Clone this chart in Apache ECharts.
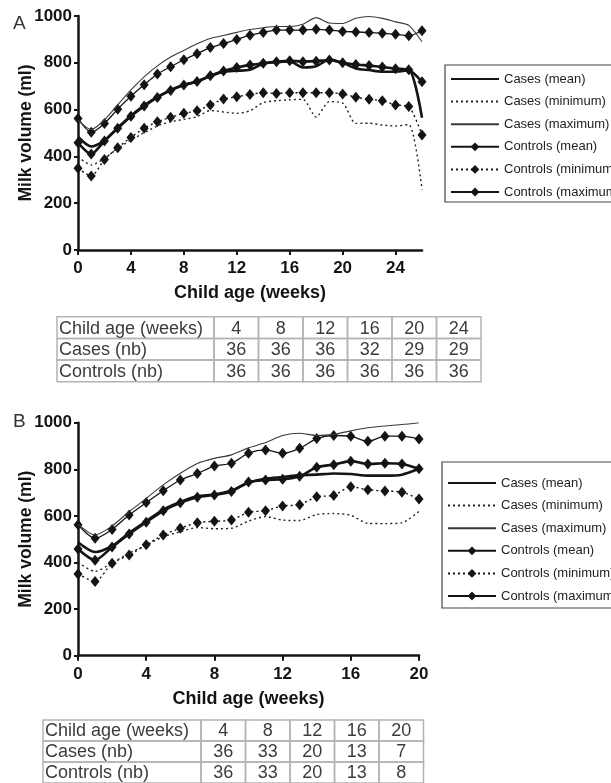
<!DOCTYPE html>
<html><head><meta charset="utf-8">
<script src="https://cdn.jsdelivr.net/npm/echarts@6/dist/echarts.min.js"></script>
<style>html,body{margin:0;padding:0;background:#fff}#c{width:611px;height:783px}</style>
</head><body><div id="c"></div>
<script>
// ---------- data ----------
const seriesNames = ['Cases (mean)','Cases (minimum)','Cases (maximum)','Controls (mean)','Controls (minimum)','Controls (maximum)'];
const yTicks = [0, 200, 400, 600, 800, 1000];

// Panel A (weeks 0-26)
const weeksA = [0,1,2,3,4,5,6,7,8,9,10,11,12,13,14,15,16,17,18,19,20,21,22,23,24,25,26];
const casesMeanA   = [484,442,468,522,574,617,654,683,706,720,743,762,766,770,796,803,806,780,785,814,800,776,769,762,762,768,565];
const casesMinA    = [399,363,392,434,470,501,530,548,558,570,596,590,584,595,630,638,642,644,568,634,628,541,542,534,530,536,258];
const casesMaxA    = [555,515,556,620,684,740,787,825,853,881,904,917,930,942,950,955,955,965,993,970,968,990,998,990,975,960,890];
const controlsMeanA= [458,410,466,520,572,615,652,682,705,720,745,765,780,791,798,805,809,805,807,812,800,793,788,782,775,770,719];
const controlsMinA = [349,316,387,437,481,520,548,567,584,595,620,645,655,665,672,669,672,672,672,672,667,653,644,638,620,613,491];
const controlsMaxA = [562,503,541,602,657,706,752,783,813,839,865,882,900,918,930,940,940,940,943,940,934,932,929,926,922,916,937];

// Panel B (weeks 0-20)
const weeksB = [0,1,2,3,4,5,6,7,8,9,10,11,12,13,14,15,16,17,18,19,20];
const casesMeanB   = [487,445,470,527,577,627,660,684,692,709,742,760,767,775,777,782,780,773,773,777,802];
const casesMinB    = [400,362,398,440,474,510,532,550,545,547,578,597,582,580,606,610,603,568,567,570,620];
const casesMaxB    = [565,518,557,618,675,733,783,825,847,862,892,915,945,955,945,950,965,978,986,992,1000];
const controlsMeanB= [458,410,466,522,573,622,656,680,690,705,745,754,757,770,809,820,835,823,826,823,802];
const controlsMinB = [351,318,397,432,476,518,547,571,577,582,616,622,643,648,682,688,725,712,707,702,672];
const controlsMaxB = [562,504,542,604,657,708,754,782,814,826,869,883,869,890,932,945,942,920,942,942,930];

// Tables
const tableHeaderLabels = ['Child age (weeks)', 'Cases (nb)', 'Controls (nb)'];
const tableWeeksA    = [4, 8, 12, 16, 20, 24];
const tableCasesA    = [36, 36, 36, 32, 29, 29];
const tableControlsA = [36, 36, 36, 36, 36, 36];
const tableWeeksB    = [4, 8, 12, 16, 20];
const tableCasesB    = [36, 33, 20, 13, 7];
const tableControlsB = [36, 33, 20, 13, 8];

// ---------- styles ----------
const FONT = "'Liberation Sans', Arial, sans-serif";
const INK = '#141414';
const styleOf = {
  'Cases (mean)':       {symbol:'none',    lineStyle:{width:2.6, color:INK}},
  'Cases (minimum)':    {symbol:'none',    lineStyle:{width:1.4, color:'#222', type:[2,3]}},
  'Cases (maximum)':    {symbol:'none',    lineStyle:{width:1.1, color:'#3a3a3a'}},
  'Controls (mean)':    {symbol:'diamond', lineStyle:{width:2.6, color:INK}},
  'Controls (minimum)': {symbol:'diamond', lineStyle:{width:1.4, color:INK, type:[2,3]}},
  'Controls (maximum)': {symbol:'diamond', lineStyle:{width:1.3, color:INK}}
};
const dataA = [casesMeanA, casesMinA, casesMaxA, controlsMeanA, controlsMinA, controlsMaxA];
const dataB = [casesMeanB, casesMinB, casesMaxB, controlsMeanB, controlsMinB, controlsMaxB];

function makeSeries(weeks, values, gi) {
  return seriesNames.map((name, k) => {
    const st = styleOf[name];
    return {
      type:'line', name, xAxisIndex:gi, yAxisIndex:gi,
      data: weeks.map((w, i) => [w, values[k][i]]),
      symbol: st.symbol, symbolSize:[9,11], showSymbol: st.symbol !== 'none',
      itemStyle:{color:INK, borderWidth:0},
      lineStyle: st.lineStyle, smooth:0.25, z: 10 - k,
      animation:false
    };
  });
}

function xAxis(gi, max, hideMax) {
  return {
    type:'value', gridIndex:gi, min:0, max, interval:4,
    name:'Child age (weeks)', nameLocation:'middle', nameGap:34, nameMoveOverlap:false,
    nameTextStyle:{fontFamily:FONT, fontWeight:'bold', fontSize:18, color:INK},
    axisLine:{lineStyle:{color:INK, width:2.5}},
    axisTick:{show:true, length:5, lineStyle:{width:2, color:INK}},
    axisLabel:{fontFamily:FONT, fontWeight:'bold', fontSize:17, color:INK, margin:10, showMaxLabel: !hideMax,
      formatter: v => String(v)},
    splitLine:{show:false}
  };
}
function yAxis(gi) {
  return {
    type:'value', gridIndex:gi, min:yTicks[0], max:yTicks[yTicks.length-1], interval:200,
    name:'Milk volume (ml)', nameLocation:'middle', nameGap:43, nameRotate:90, nameMoveOverlap:false,
    nameTextStyle:{fontFamily:FONT, fontWeight:'bold', fontSize:17.5, color:INK},
    axisLine:{show:true, lineStyle:{color:INK, width:2.5}},
    axisTick:{show:true, length:4, lineStyle:{width:2, color:INK}},
    axisLabel:{fontFamily:FONT, fontWeight:'bold', fontSize:17, color:INK, margin:6,
      formatter: v => String(v)},
    splitLine:{show:false}
  };
}
function legend(left, top, padding) {
  return {
    orient:'vertical', left, top,
    data: seriesNames.map(n => styleOf[n].symbol === 'none'
      ? {name:n, itemStyle:{opacity:0}} : {name:n}),
    itemWidth:48, itemHeight:11, itemGap:6.6, padding,
    borderColor:'#444', borderWidth:1.2, backgroundColor:'#fff',
    selectedMode:false,
    textStyle:{fontFamily:FONT, fontSize:13, color:'#222', lineHeight:16}
  };
}

function buildTable(x0, y0, firstW, colW, rowH, weeks, cases, controls) {
  const rows = [
    [tableHeaderLabels[0]].concat(weeks),
    [tableHeaderLabels[1]].concat(cases),
    [tableHeaderLabels[2]].concat(controls)
  ];
  const els = [];
  rows.forEach((row, r) => {
    row.forEach((val, c) => {
      const x = c === 0 ? x0 : x0 + firstW + (c - 1) * colW;
      const w = c === 0 ? firstW : colW;
      const y = y0 + r * rowH;
      els.push({type:'rect', shape:{x, y, width:w, height:rowH},
        style:{fill:'none', stroke:'#b4b4b4', lineWidth:1.5}, silent:true});
      els.push({type:'text', x: c === 0 ? x + 2 : x + w / 2, y: y + rowH / 2 + 1,
        style:{text:String(val), font:'18px ' + FONT, fill:'#3c3c3c',
          align: c === 0 ? 'left' : 'center', verticalAlign:'middle'}, silent:true});
    });
  });
  return els;
}

const chart = echarts.init(document.getElementById('c'), null, {renderer:'canvas'});
const option = {
  animation:false,
  backgroundColor:'#fff',
  grid:[
    {left:78, top:16, width:344, height:234},
    {left:78, top:422.7, width:341, height:233}
  ],
  xAxis:[xAxis(0, 26, true), xAxis(1, 20, false)],
  yAxis:[yAxis(0), yAxis(1)],
  legend:[legend(445, 65, [6,8,2,5]), legend(442, 462, [13,8,4,5])],
  series: makeSeries(weeksA, dataA, 0).concat(makeSeries(weeksB, dataB, 1)),
  graphic: [
    {type:'text', x:13, y:14, style:{text:'A', font:'19px ' + FONT, fill:'#333'}},
    {type:'text', x:13, y:412, style:{text:'B', font:'19px ' + FONT, fill:'#333'}}
  ].concat(
    buildTable(57, 316.7, 157, 44.5, 21.7, tableWeeksA, tableCasesA, tableControlsA),
    buildTable(43, 720, 158, 44.5, 21, tableWeeksB, tableCasesB, tableControlsB)
  )
};
chart.setOption(option);
</script>
</body></html>
